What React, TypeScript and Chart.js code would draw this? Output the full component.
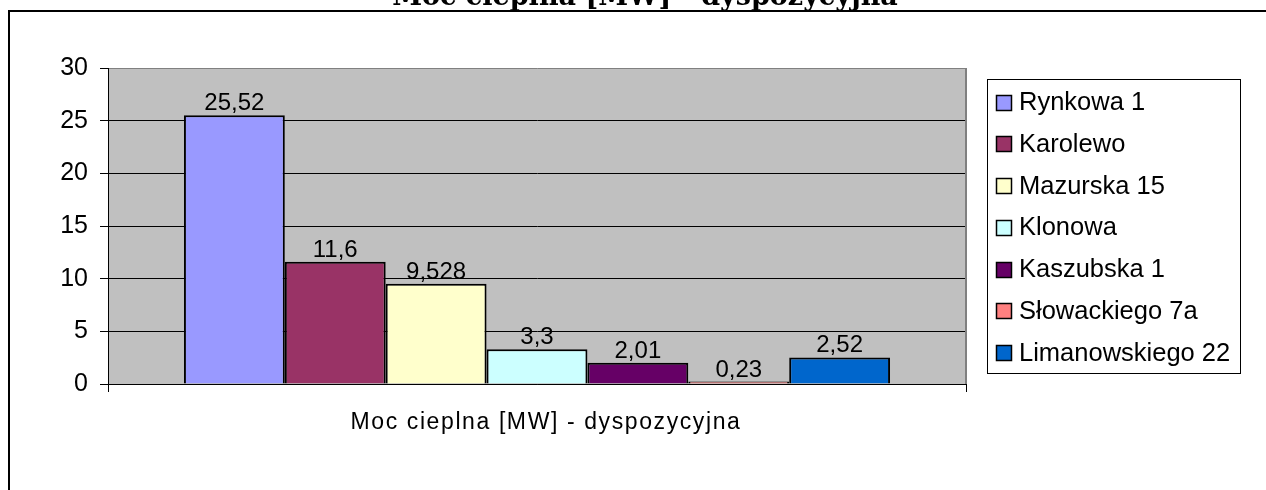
import React, { useEffect, useRef } from "react";
import { Chart, registerables } from "chart.js";

Chart.register(...registerables);

const categories = ["Moc cieplna [MW] - dyspozycyjna"];
const seriesNames = [
  "Rynkowa 1",
  "Karolewo",
  "Mazurska 15",
  "Klonowa",
  "Kaszubska 1",
  "Słowackiego 7a",
  "Limanowskiego 22",
];
const seriesValues = [25.52, 11.6, 9.528, 3.3, 2.01, 0.23, 2.52];
const seriesColors = ["#9999FF", "#993366", "#FFFFCC", "#CCFFFF", "#660066", "#FF8080", "#0066CC"];
const yMin = 0;
const yMax = 30;
const yStep = 5;
const chartTitle = "Moc cieplna [MW] - dyspozycyjna";

const SANS = '"Liberation Sans", Arial, sans-serif';

const fmt = (v: number) => String(v).replace(".", ",");

const decorPlugin = {
  id: "decor",
  beforeDraw(chart: any) {
    const { ctx, chartArea: a } = chart;
    ctx.save();
    ctx.fillStyle = "#ffffff";
    ctx.fillRect(0, 0, chart.width, chart.height);
    ctx.fillStyle = "#C0C0C0";
    ctx.fillRect(a.left, a.top, a.right - a.left, a.bottom - a.top);
    ctx.restore();
  },
  afterDraw(chart: any) {
    const { ctx, chartArea: a } = chart;
    ctx.save();
    // outer frame (extends beyond the visible area)
    ctx.strokeStyle = "#000";
    ctx.lineWidth = 2;
    ctx.strokeRect(9, 11, chart.width + 40, chart.height + 40);

    // right edge of plot area
    ctx.strokeStyle = "#808080";
    ctx.lineWidth = 2;
    ctx.beginPath();
    ctx.moveTo(a.right, a.top);
    ctx.lineTo(a.right, a.bottom);
    ctx.stroke();

    // title (partly clipped at top)
    ctx.fillStyle = "#000";
    ctx.font = 'bold 27px "DejaVu Serif", serif';
    ctx.textAlign = "center";
    ctx.textBaseline = "alphabetic";
    ctx.fillText(chartTitle, chart.width / 2 + 12, 5);

    // category label
    ctx.font = "23px " + SANS;
    (ctx as any).letterSpacing = "1.6px";
    ctx.fillText(categories[0], (a.left + a.right) / 2 + 9, a.bottom + 45);
    (ctx as any).letterSpacing = "0px";

    // data labels
    ctx.font = "24px " + SANS;
    chart.data.datasets.forEach((ds: any, i: number) => {
      const meta = chart.getDatasetMeta(i);
      const bar = meta.data[0];
      if (!bar) return;
      ctx.fillText(fmt(ds.data[0]), bar.x, bar.y - 5);
    });

    // legend
    const bx = a.right + 21;
    const by = a.top + 11;
    const bw = 253;
    const bh = 294;
    ctx.fillStyle = "#fff";
    ctx.fillRect(bx, by, bw, bh);
    ctx.strokeStyle = "#000";
    ctx.lineWidth = 1;
    ctx.strokeRect(bx + 0.5, by + 0.5, bw, bh);
    ctx.textAlign = "left";
    ctx.textBaseline = "middle";
    ctx.font = "25.5px " + SANS;
    seriesNames.forEach((name, i) => {
      const cy = by + 23 + i * 41.75;
      ctx.fillStyle = seriesColors[i];
      ctx.fillRect(bx + 9, Math.round(cy - 7.5), 16, 16);
      ctx.strokeStyle = "#000";
      ctx.lineWidth = 1.5;
      ctx.strokeRect(bx + 9.5, Math.round(cy - 7.5) + 0.5, 15, 15);
      ctx.fillStyle = "#000";
      ctx.fillText(name, bx + 32, cy + 1);
    });
    ctx.restore();
  },
};

export default function App() {
  const canvasRef = useRef<HTMLCanvasElement | null>(null);

  useEffect(() => {
    if (!canvasRef.current) return;
    const chart = new Chart(canvasRef.current, {
      type: "bar",
      data: {
        labels: categories,
        datasets: seriesNames.map((name, i) => ({
          label: name,
          data: [seriesValues[i]],
          backgroundColor: seriesColors[i],
          borderColor: "#000",
          borderWidth: 2,
          categoryPercentage: 0.823,
          barPercentage: 1,
        })),
      },
      options: {
        responsive: false,
        animation: false,
        devicePixelRatio: 1,
        layout: { padding: { left: 0, top: 68, right: 300, bottom: 0 } },
        plugins: {
          legend: { display: false },
          tooltip: { enabled: false },
          title: { display: false },
        },
        scales: {
          x: {
            offset: true,
            ticks: { display: false },
            grid: {
              display: true,
              offset: true,
              drawOnChartArea: false,
              drawTicks: true,
              tickLength: 8,
              tickColor: "#000",
              color: "#000",
            },
            border: { display: true, color: "#000", width: 1 },
            afterFit: (scale: any) => {
              scale.height = 106;
            },
          },
          y: {
            min: yMin,
            max: yMax,
            ticks: {
              stepSize: yStep,
              color: "#000",
              padding: 12,
              font: { family: SANS, size: 25 },
            },
            grid: {
              color: (c: any) => (c.tick && c.tick.value === yMax ? "#808080" : "#000"),
              tickColor: "#000",
              tickLength: 8,
              lineWidth: 1,
            },
            border: { display: true, color: "#000", width: 1 },
            afterFit: (scale: any) => {
              scale.width = 108;
            },
          },
        },
      },
      plugins: [decorPlugin],
    } as any);
    return () => chart.destroy();
  }, []);

  return (
    <div style={{ position: "absolute", left: 0, top: 0, width: 1266, height: 490 }}>
      <canvas ref={canvasRef} width={1266} height={490} />
    </div>
  );
}
